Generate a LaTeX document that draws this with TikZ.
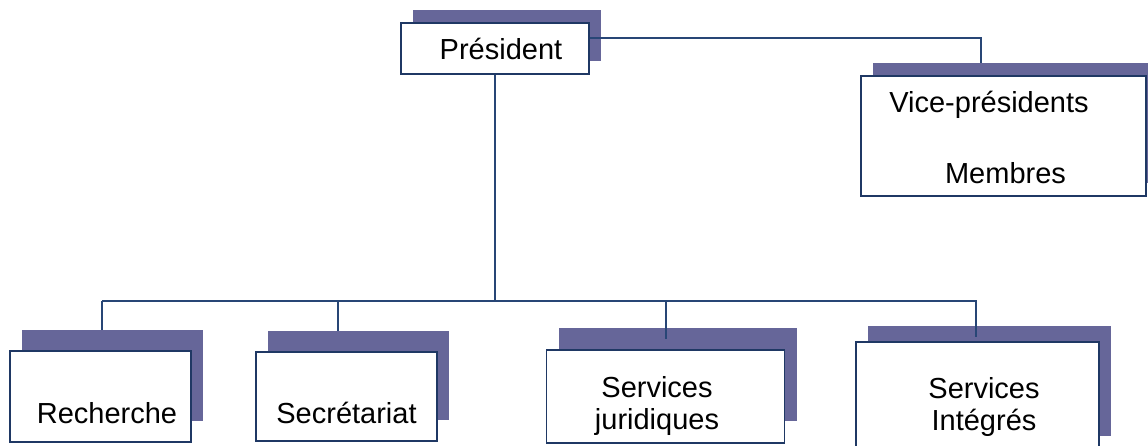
\documentclass[tikz,border=0pt]{standalone}
\usepackage{fontspec}
\setmainfont{Liberation Sans}
\usetikzlibrary{shadows,positioning}
\definecolor{orgshade}{RGB}{102,102,153}
\definecolor{orgline}{RGB}{31,56,100}
\definecolor{orglink}{RGB}{40,70,118}
\tikzset{orgbox/.style={draw=orgline,line width=1.6pt,fill=white,inner sep=0pt,
    general shadow={fill=orgshade,shadow xshift=12pt,shadow yshift=#1}},
  orgbox/.default=12pt}
\tikzset{wire/.style={draw=orglink,line width=1.5pt}}

\begin{document}
\begin{tikzpicture}[x=1pt,y=-1pt,every node/.style={font=\fontsize{29}{32}\selectfont}]
        \useasboundingbox (0,0) rectangle (1148,446);
        % boxes
        \node(pres)[orgbox=12.5pt,minimum width=188pt,minimum height=51pt] at (495,48.5){};
        \node(vice)[orgbox=13pt,minimum width=285pt,minimum height=120pt] at (1003.5,136){};
        \node(rech)[orgbox=21pt,minimum width=181pt,minimum height=91pt] at (100.5,396.5){};
        \node(secr)[orgbox=21pt,minimum width=181pt,minimum height=89pt] at (346.5,396.5){};
        \node(jur)[orgbox=22pt,minimum width=238pt,minimum height=93pt] at (665.5,396.5){};
        \node(integ)[orgbox=16pt,minimum width=243pt,minimum height=110pt] at (977.5,397){};
        % texts
        \node(prestxt)[anchor=base] at (501,60){Président};
        \node(vicetxt)[anchor=base] at (989,113){Vice-présidents};
        \node(membtxt)[anchor=base] at (1005.5,184){Membres};
        \node(rechtxt)[anchor=base] at (107,423){Recherche};
        \node(secrtxt)[anchor=base] at (346.5,423){Secrétariat};
        \node(jurtxt)[align=center] at (657,406){Services\\juridiques};
        \node(integtxt)[align=center] at (984,407){Services\\Intégrés};
        % connectors
        \coordinate(vicein) at (981,63);
        \coordinate(busL) at (102,301);
        \coordinate(busR) at (977,301);
        \coordinate(rechin) at (102,330);
        \coordinate(secrin) at (338,331);
        \coordinate(jurin) at (666,339);
        \coordinate(integin) at (976,337);
        \draw[wire] ([yshift=10.5pt]pres.east) -| (vicein);
        \draw[wire]
        (pres.south) edge (pres.south |- busL)
        (busL) edge (busR)
        (busL) edge (rechin)
        (secrin |- busL) edge (secrin)
        (jurin |- busL) edge (jurin)
        (integin |- busL) edge (integin);
      \end{tikzpicture}
\end{document}
